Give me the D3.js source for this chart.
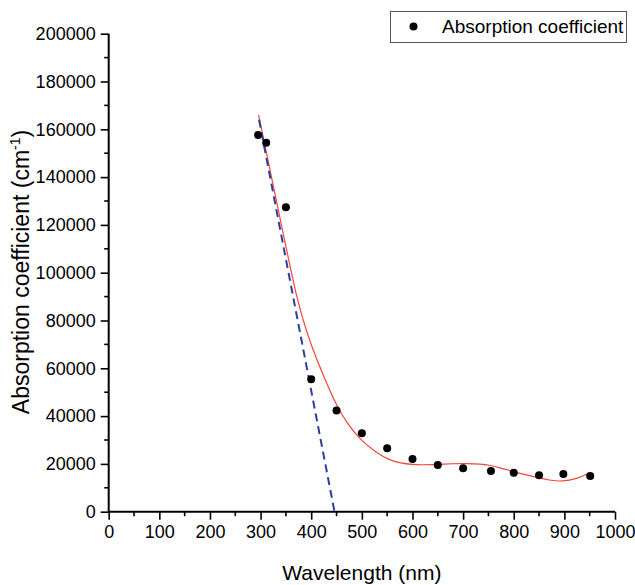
<!DOCTYPE html>
<html>
<head>
<meta charset="utf-8">
<script src="https://cdn.jsdelivr.net/npm/d3@7"></script>
<style>
  body { margin: 0; background: #fff; }
  svg { font-family: "Liberation Sans", Arial, sans-serif; }
</style>
</head>
<body>
<svg id="chart" width="635" height="585"></svg>
<script>
// measured points
const wavelength = [295, 311, 350, 400, 450, 500, 550, 600, 650, 700, 755, 800, 850, 898, 951];
const absorption = [157600, 154400, 127400, 55400, 42300, 32800, 26500, 22000, 19500, 18200, 17000, 16300, 15200, 15800, 14900];

// red fitted curve
const fitX = [296, 345, 371, 391, 411, 431, 450, 470, 496, 529, 556, 576, 600, 620, 648, 680, 707, 735, 753, 773, 792, 812, 848, 870, 895, 924, 951];
const fitY = [166000, 116000, 89500, 75000, 63500, 53500, 44500, 37200, 30300, 24500, 21500, 20300, 19700, 19600, 19800, 20100, 20200, 19900, 19400, 18400, 17200, 16000, 14200, 13200, 12600, 13600, 16500];

// blue dashed tangent line
const tangentX = [297, 446];
const tangentY = [164000, 0];

const xTicks = [0, 100, 200, 300, 400, 500, 600, 700, 800, 900, 1000];
const yTicks = [0, 20000, 40000, 60000, 80000, 100000, 120000, 140000, 160000, 180000, 200000];

const svg = d3.select("#chart");
const plotL = 108.7, plotR = 615, plotT = 33.7, plotB = 511.7;

const x = d3.scaleLinear().domain([0, 1000]).range([plotL, plotR]);
const y = d3.scaleLinear().domain([0, 200000]).range([plotB, plotT]);

// x axis
const xAxis = d3.axisBottom(x).tickValues(xTicks).tickSize(8).tickPadding(6).tickFormat(d3.format("d"));
const gx = svg.append("g").attr("transform", `translate(0,${plotB})`).call(xAxis);
gx.selectAll(".tick line").attr("stroke-width", 1.6);
gx.select(".domain").attr("stroke-width", 2).attr("d", `M${plotL},0H${plotR}`);
gx.selectAll("text").attr("font-size", 18).attr("fill", "#000");
gx.append("g").selectAll("line")
  .data(d3.range(50, 1000, 100))
  .enter().append("line")
  .attr("x1", d => x(d)).attr("x2", d => x(d))
  .attr("y1", 0).attr("y2", 4.5)
  .attr("stroke", "#000").attr("stroke-width", 1.6);

// y axis
const yAxis = d3.axisLeft(y).tickValues(yTicks).tickSize(8).tickPadding(5).tickFormat(d3.format("d"));
const gy = svg.append("g").attr("transform", `translate(${plotL},0)`).call(yAxis);
gy.selectAll(".tick line").attr("stroke-width", 1.6);
gy.select(".domain").attr("stroke-width", 2).attr("d", `M0,${plotB}V${plotT}`);
gy.selectAll("text").attr("font-size", 18).attr("fill", "#000");
gy.append("g").selectAll("line")
  .data(d3.range(10000, 200000, 20000))
  .enter().append("line")
  .attr("x1", 0).attr("x2", -4.5)
  .attr("y1", d => y(d)).attr("y2", d => y(d))
  .attr("stroke", "#000").attr("stroke-width", 1.6);

// axis titles
svg.append("text")
  .attr("x", (plotL + plotR) / 2).attr("y", 580)
  .attr("text-anchor", "middle").attr("font-size", 21)
  .text("Wavelength (nm)");

const yt = svg.append("text")
  .attr("transform", "translate(29,272) rotate(-90)")
  .attr("text-anchor", "middle").attr("font-size", 23);
yt.append("tspan").text("Absorption coefficient (cm");
yt.append("tspan").attr("dy", -9).attr("font-size", 14).text("-1");
yt.append("tspan").attr("dy", 9).text(")");

// fitted curve
const fitLine = d3.line().x(d => x(d[0])).y(d => y(d[1])).curve(d3.curveBasis);
svg.append("path")
  .datum(d3.zip(fitX, fitY))
  .attr("d", fitLine)
  .attr("fill", "none").attr("stroke", "#f5443a").attr("stroke-width", 1.2);

// tangent
svg.append("path")
  .datum(d3.zip(tangentX, tangentY))
  .attr("d", d3.line().x(d => x(d[0])).y(d => y(d[1])))
  .attr("fill", "none").attr("stroke", "#2f3fa0").attr("stroke-width", 2)
  .attr("stroke-dasharray", "8,5");

// points
svg.append("g").selectAll("circle")
  .data(d3.zip(wavelength, absorption))
  .enter().append("circle")
  .attr("cx", d => x(d[0])).attr("cy", d => y(d[1]))
  .attr("r", 4).attr("fill", "#000");

// legend
const lg = svg.append("g");
lg.append("rect")
  .attr("x", 390.5).attr("y", 11.5).attr("width", 236).attr("height", 31)
  .attr("fill", "#fff").attr("stroke", "#555").attr("stroke-width", 1);
lg.append("circle").attr("cx", 413.5).attr("cy", 26.5).attr("r", 4).attr("fill", "#000");
lg.append("text").attr("x", 442).attr("y", 33).attr("font-size", 19).text("Absorption coefficient");
</script>
</body>
</html>
